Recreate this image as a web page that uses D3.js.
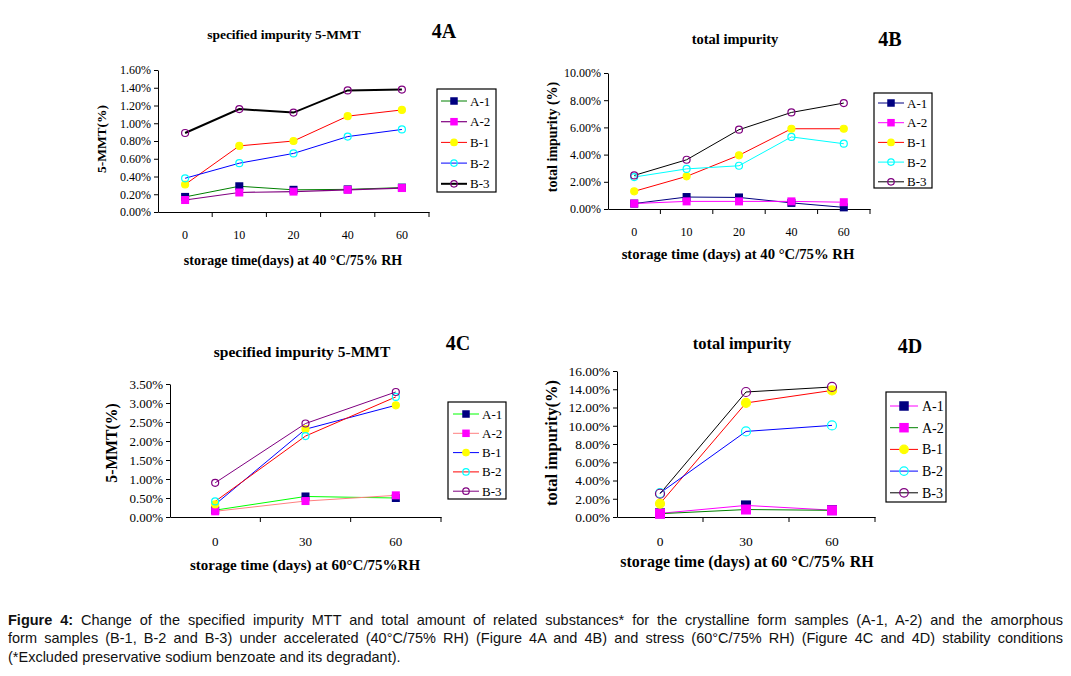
<!DOCTYPE html>
<html>
<head>
<meta charset="utf-8">
<script src="https://cdn.jsdelivr.net/npm/d3@7"></script>
<style>
  body { margin: 0; background: #fff; }
  svg { display: block; }
</style>
</head>
<body>
<svg id="chart" width="1071" height="676"></svg>
<script>
//Data
const seriesNames = ["A-1", "A-2", "B-1", "B-2", "B-3"];
const days40 = ["0", "10", "20", "40", "60"];
const days60 = ["0", "30", "60"];

// 4A: specified impurity 5-MMT (%), 40 C / 75% RH
const mmt40 = [
  [0.17, 0.29, 0.25, 0.255, 0.275],
  [0.135, 0.22, 0.23, 0.25, 0.27],
  [0.31, 0.745, 0.80, 1.08, 1.15],
  [0.38, 0.55, 0.66, 0.85, 0.93],
  [0.89, 1.16, 1.12, 1.37, 1.38]
];
// 4B: total impurity (%), 40 C / 75% RH
const total40 = [
  [0.40, 0.88, 0.85, 0.45, 0.12],
  [0.40, 0.56, 0.56, 0.56, 0.50],
  [1.30, 2.40, 3.95, 5.90, 5.90],
  [2.35, 2.95, 3.18, 5.30, 4.80],
  [2.47, 3.62, 5.83, 7.10, 7.79]
];
// 4C: specified impurity 5-MMT (%), 60 C / 75% RH
const mmt60 = [
  [0.18, 0.54, 0.50],
  [0.15, 0.42, 0.57],
  [0.33, 2.31, 2.94],
  [0.41, 2.13, 3.16],
  [0.90, 2.46, 3.29]
];
// 4D: total impurity (%), 60 C / 75% RH
const total60 = [
  [0.40, 1.27, 0.75],
  [0.36, 0.82, 0.73],
  [1.46, 12.50, 13.87],
  [2.63, 9.38, 10.04],
  [2.55, 13.70, 14.25]
];

const ticksMmt40 = [0, 0.2, 0.4, 0.6, 0.8, 1.0, 1.2, 1.4, 1.6];
const ticksTotal40 = [0, 2, 4, 6, 8, 10];
const ticksMmt60 = [0, 0.5, 1.0, 1.5, 2.0, 2.5, 3.0, 3.5];
const ticksTotal60 = [0, 2, 4, 6, 8, 10, 12, 14, 16];

//Marker styles (same in every panel)
const markerShape = ["square", "square", "circle", "circle", "circle"];
const markerFill = ["#000080", "#ff00ff", "#ffff00", "none", "none"];
const markerStroke = ["#000080", "#ff00ff", "#ffff00", "#00ffff", "#800080"];

const SERIF = "'Liberation Serif', 'Times New Roman', serif";
const SANS = "'Liberation Sans', Arial, sans-serif";

var svg = d3.select("#chart");
svg.append("rect").attr("width", 1071).attr("height", 676).attr("fill", "#fff");

function drawMarker(g, shape, cx, cy, size, fill, stroke) {
  if (shape === "square") {
    g.append("rect")
      .attr("x", cx - size / 2).attr("y", cy - size / 2)
      .attr("width", size).attr("height", size)
      .attr("fill", fill);
  } else {
    g.append("circle")
      .attr("cx", cx).attr("cy", cy)
      .attr("r", size / 2 - 0.5)
      .attr("fill", fill)
      .attr("stroke", stroke)
      .attr("stroke-width", 1.2);
  }
}

function panel(cfg) {
  var g = svg.append("g");
  var x = d3.scaleBand().domain(cfg.cats).range([cfg.left, cfg.right]);
  var y = d3.scaleLinear().domain([0, d3.max(cfg.ticks)]).range([cfg.bottom, cfg.top]);

  //y axis
  var ya = g.append("g")
    .attr("transform", "translate(" + cfg.left + ",0)")
    .call(d3.axisLeft(y).tickValues(cfg.ticks)
      .tickFormat(function(d) { return d.toFixed(2) + "%"; })
      .tickSize(4).tickSizeOuter(0).tickPadding(3));
  ya.attr("font-family", SERIF).attr("font-size", cfg.tickFont);
  ya.selectAll("text").attr("fill", "#000");

  //x axis, ticks sit between the categories
  var xa = g.append("g")
    .attr("transform", "translate(0," + cfg.bottom + ")")
    .call(d3.axisBottom(x).tickSize(0).tickSizeOuter(0).tickPadding(cfg.xPad));
  xa.attr("font-family", SERIF).attr("font-size", cfg.tickFont);
  xa.selectAll("text").attr("fill", "#000");
  xa.selectAll(".sep")
    .data(cfg.cats.slice(1).map(function(d) { return x(d); }).concat([x.range()[1]]))
    .enter().append("line")
    .attr("class", "sep")
    .attr("x1", function(d) { return d; }).attr("x2", function(d) { return d; })
    .attr("y1", 0).attr("y2", 5)
    .attr("stroke", "#000");

  //series
  var line = d3.line()
    .x(function(d, i) { return x(cfg.cats[i]) + x.bandwidth() / 2; })
    .y(function(d) { return y(d); });
  cfg.values.forEach(function(vals, s) {
    g.append("path")
      .attr("d", line(vals))
      .attr("fill", "none")
      .attr("stroke", cfg.lineColors[s])
      .attr("stroke-width", cfg.lineWidths[s]);
  });
  cfg.values.forEach(function(vals, s) {
    var mg = g.append("g");
    vals.forEach(function(v, i) {
      drawMarker(mg, markerShape[s], x(cfg.cats[i]) + x.bandwidth() / 2, y(v),
        cfg.markerSize, markerFill[s], markerStroke[s]);
    });
  });

  //titles
  g.append("text")
    .attr("x", cfg.titleX).attr("y", cfg.titleY)
    .attr("text-anchor", "middle")
    .attr("font-family", SERIF).attr("font-weight", "bold").attr("font-size", cfg.titleFont)
    .text(cfg.title);
  g.append("text")
    .attr("x", cfg.tagX).attr("y", cfg.tagY)
    .attr("text-anchor", "middle")
    .attr("font-family", SERIF).attr("font-weight", "bold").attr("font-size", 20)
    .text(cfg.tag);
  g.append("text")
    .attr("x", cfg.xLabelX).attr("y", cfg.xLabelY)
    .attr("text-anchor", "middle")
    .attr("font-family", SERIF).attr("font-weight", "bold").attr("font-size", cfg.xLabelFont)
    .text(cfg.xLabel);
  g.append("text")
    .attr("transform", "translate(" + cfg.yLabelX + "," + cfg.yLabelY + ") rotate(-90)")
    .attr("text-anchor", "middle")
    .attr("font-family", SERIF).attr("font-weight", "bold").attr("font-size", cfg.yLabelFont)
    .text(cfg.yLabel);

  //legend
  var lg = cfg.legend;
  g.append("rect")
    .attr("x", lg.x).attr("y", lg.y).attr("width", lg.w).attr("height", lg.h)
    .attr("fill", "#fff").attr("stroke", "#000").attr("stroke-width", 1.2);
  seriesNames.forEach(function(name, s) {
    var cy = lg.y + lg.first + s * lg.step;
    var eg = g.append("g");
    eg.append("line")
      .attr("x1", lg.x + lg.l0).attr("x2", lg.x + lg.l1)
      .attr("y1", cy).attr("y2", cy)
      .attr("stroke", cfg.lineColors[s])
      .attr("stroke-width", cfg.lineWidths[s]);
    drawMarker(eg, markerShape[s], lg.x + (lg.l0 + lg.l1) / 2, cy, lg.marker,
      markerFill[s], markerStroke[s]);
    eg.append("text")
      .attr("x", lg.x + lg.tx).attr("y", cy)
      .attr("dy", "0.35em")
      .attr("font-family", SERIF).attr("font-size", lg.font)
      .text(name);
  });
}

panel({
  cats: days40, values: mmt40, ticks: ticksMmt40,
  left: 158, right: 429, top: 70, bottom: 212, tickFont: 12, xPad: 18, markerSize: 8,
  lineColors: ["#008000", "#800080", "#ff0000", "#0000ff", "#000000"],
  lineWidths: [1, 1.2, 1, 1, 2],
  title: "specified impurity 5-MMT", titleX: 284, titleY: 39, titleFont: 13.5,
  tag: "4A", tagX: 444, tagY: 38,
  xLabel: "storage time(days) at 40 °C/75% RH", xLabelX: 293, xLabelY: 265, xLabelFont: 14,
  yLabel: "5-MMT(%)", yLabelX: 106, yLabelY: 139, yLabelFont: 13.5,
  legend: { x: 437, y: 89, w: 59, h: 103, first: 12, step: 20.7, l0: 4, l1: 30, tx: 33, marker: 7.5, font: 13 }
});

panel({
  cats: days40, values: total40, ticks: ticksTotal40,
  left: 608, right: 870, top: 73, bottom: 209, tickFont: 12, xPad: 18, markerSize: 8,
  lineColors: ["#000080", "#ff00ff", "#ff0000", "#00ffff", "#000000"],
  lineWidths: [1, 1, 1, 1, 1],
  title: "total impurity", titleX: 735, titleY: 44, titleFont: 14.5,
  tag: "4B", tagX: 890, tagY: 46,
  xLabel: "storage time (days) at 40 °C/75% RH", xLabelX: 738, xLabelY: 259, xLabelFont: 14.7,
  yLabel: "total impurity (%)", yLabelX: 557, yLabelY: 137, yLabelFont: 14,
  legend: { x: 874, y: 93, w: 58, h: 95, first: 10, step: 19.7, l0: 4, l1: 30, tx: 33, marker: 7.5, font: 13 }
});

panel({
  cats: days60, values: mmt60, ticks: ticksMmt60,
  left: 170, right: 441, top: 384, bottom: 517, tickFont: 13, xPad: 20, markerSize: 8,
  lineColors: ["#00ff00", "#ff8080", "#0000ff", "#ff0000", "#800080"],
  lineWidths: [1, 1, 1, 1, 1],
  title: "specified impurity 5-MMT", titleX: 302, titleY: 357, titleFont: 15.5,
  tag: "4C", tagX: 458, tagY: 350,
  xLabel: "storage time (days) at 60°C/75%RH", xLabelX: 305, xLabelY: 570, xLabelFont: 15,
  yLabel: "5-MMT(%)", yLabelX: 117, yLabelY: 443, yLabelFont: 15.7,
  legend: { x: 448, y: 402, w: 58, h: 97, first: 12, step: 19.3, l0: 5, l1: 31, tx: 34, marker: 7.5, font: 13 }
});

panel({
  cats: days60, values: total60, ticks: ticksTotal60,
  left: 617, right: 875, top: 371, bottom: 517, tickFont: 13.5, xPad: 19, markerSize: 10,
  lineColors: ["#ff00ff", "#008000", "#ff0000", "#0000ff", "#000000"],
  lineWidths: [1, 1, 1, 1, 1],
  title: "total impurity", titleX: 742, titleY: 349, titleFont: 16.5,
  tag: "4D", tagX: 910, tagY: 353,
  xLabel: "storage time (days) at 60 °C/75% RH", xLabelX: 747, xLabelY: 567, xLabelFont: 16,
  yLabel: "total impurity(%)", yLabelX: 557, yLabelY: 443, yLabelFont: 16.5,
  legend: { x: 886, y: 392, w: 60, h: 110, first: 14, step: 21.7, l0: 4, l1: 32, tx: 36, marker: 9.5, font: 14 }
});

//Caption, first two lines justified
var capLines = [
  { bold: "Figure 4:", rest: " Change of the specified impurity MTT and total amount of related substances* for the crystalline form samples (A-1, A-2) and the amorphous", y: 625, justify: true },
  { bold: "", rest: "form samples (B-1, B-2 and B-3) under accelerated (40°C/75% RH) (Figure 4A and 4B) and stress (60°C/75% RH) (Figure 4C and 4D) stability conditions", y: 643, justify: true },
  { bold: "", rest: "(*Excluded preservative sodium benzoate and its degradant).", y: 662, justify: false }
];
var capLeft = 8, capRight = 1063;
capLines.forEach(function(c) {
  var t = svg.append("text")
    .attr("x", capLeft).attr("y", c.y)
    .attr("font-family", SANS).attr("font-size", 14.5).attr("fill", "#111")
    .attr("xml:space", "preserve");
  if (c.bold) t.append("tspan").attr("font-weight", "bold").text(c.bold);
  t.append("tspan").text(c.rest);
  if (c.justify) {
    var natural = t.node().getComputedTextLength();
    var spaces = (c.bold + c.rest).split(" ").length - 1;
    t.style("word-spacing", ((capRight - capLeft - natural) / spaces) + "px");
  }
});
</script>
</body>
</html>
